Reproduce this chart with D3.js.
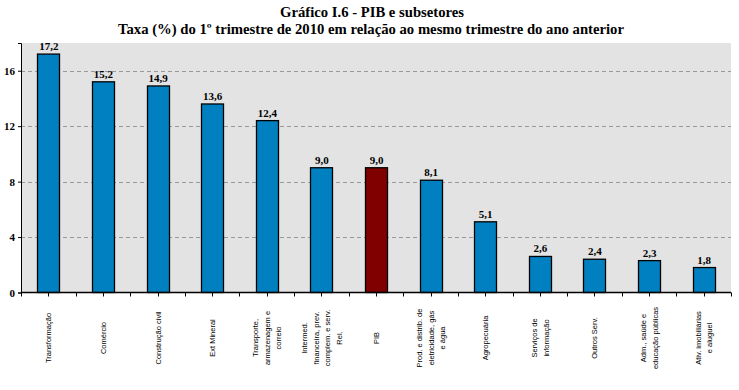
<!DOCTYPE html>
<html>
<head>
<meta charset="utf-8">
<script src="https://cdn.jsdelivr.net/npm/d3@7"></script>
<style>
  html, body { margin: 0; padding: 0; background: #ffffff; }
  svg { display: block; }
</style>
</head>
<body>
<script>
const titleLines = ["Gráfico I.6 - PIB e subsetores", "Taxa (%) do 1º trimestre de 2010 em relação ao mesmo trimestre do ano anterior"];
const categories = [
  ["Transformação"],
  ["Comércio"],
  ["Construção civil"],
  ["Ext Mineral"],
  ["Transporte,", "armazenagem e", "correio"],
  ["Intermed.", "financeira, prev.", "complem. e serv.", "Rel."],
  ["PIB"],
  ["Prod. e distrib. de", "eletricidade, gás", "e água"],
  ["Agropecuária"],
  ["Serviços de", "informação"],
  ["Outros Serv."],
  ["Adm., saúde e", "educação públicas"],
  ["Ativ. imobiliárias", "e aluguel"]
];
const values = [17.2, 15.2, 14.9, 13.6, 12.4, 9.0, 9.0, 8.1, 5.1, 2.6, 2.4, 2.3, 1.8];
const highlight = [false, false, false, false, false, false, true, false, false, false, false, false, false];
const yTicks = [0, 4, 8, 12, 16];

const W = 739, H = 390;
const m = { left: 21, right: 8, top: 43, bottom: 98 };
const svg = d3.select("body").append("svg").attr("width", W).attr("height", H);

const x = d3.scaleBand().domain(d3.range(values.length)).range([m.left, W - m.right]).paddingInner(0.6).paddingOuter(0.3);
const xo = d3.scaleBand().domain(d3.range(values.length)).range([m.left, W - m.right]);
const y = d3.scaleLinear().domain([0, 18]).range([H - m.bottom + 0.5, m.top]);

// plot background
svg.append("rect").attr("x", m.left).attr("y", m.top).attr("width", W - m.right - m.left).attr("height", y(0) - m.top).attr("fill", "#e3e3e3");

// titles
const titleSizes = [[17, 184], [34, 506]];
titleLines.forEach((t, i) => {
  svg.append("text").attr("x", i === 0 ? 280 : 118).attr("y", titleSizes[i][0])
    .attr("textLength", titleSizes[i][1]).attr("lengthAdjust", "spacingAndGlyphs")
    .attr("font-family", "'Liberation Serif', 'Times New Roman', serif").attr("font-weight", "bold")
    .attr("font-size", 15).attr("fill", "#000").text(t);
});

// gridlines
svg.append("g").selectAll("line").data(yTicks.filter(d => d > 0)).join("line")
  .attr("x1", m.left).attr("x2", W - m.right)
  .attr("y1", d => Math.round(y(d)) + 0.5).attr("y2", d => Math.round(y(d)) + 0.5)
  .attr("stroke", "#999").attr("stroke-dasharray", "4,3");

// y axis
const yAxis = svg.append("g").attr("transform", `translate(${m.left},0)`)
  .call(d3.axisLeft(y).tickValues(yTicks).tickSize(3).tickPadding(3));
yAxis.select(".domain").attr("stroke", "#000");
yAxis.selectAll(".tick line").attr("stroke", "#000");
yAxis.selectAll("text").attr("font-family", "'Liberation Serif', 'Times New Roman', serif")
  .attr("font-weight", "bold").attr("font-size", 11).attr("fill", "#000");

// bars
svg.append("g").selectAll("rect").data(values).join("rect")
  .attr("x", (d, i) => Math.round(xo(i) + xo.bandwidth() / 2 - 11) + 0.5)
  .attr("width", 22)
  .attr("y", d => y(d))
  .attr("height", d => y(0) - y(d))
  .attr("fill", (d, i) => highlight[i] ? "#800000" : "#0080c0")
  .attr("stroke", "#000").attr("stroke-width", 1.3);

// value labels
svg.append("g").selectAll("text").data(values).join("text")
  .attr("x", (d, i) => xo(i) + xo.bandwidth() / 2 + 0.5)
  .attr("y", d => y(d) - 4)
  .attr("text-anchor", "middle")
  .attr("font-family", "'Liberation Serif', 'Times New Roman', serif").attr("font-weight", "bold")
  .attr("font-size", 11).attr("fill", "#000")
  .text(d => d.toFixed(1).replace(".", ","));

// x axis
const xAxisG = svg.append("g").attr("transform", `translate(0,${y(0)})`);
xAxisG.append("line").attr("x1", m.left).attr("x2", W - m.right).attr("stroke", "#000").attr("stroke-width", 1.3);
const tickPos = [];
for (let i = 0; i <= values.length; i++) tickPos.push(xo.range()[0] + i * xo.step());
for (let i = 0; i < values.length; i++) tickPos.push(xo(i) + xo.bandwidth() / 2);
xAxisG.selectAll("line.t").data(tickPos).join("line").attr("class", "t")
  .attr("x1", d => Math.round(d) + 0.5).attr("x2", d => Math.round(d) + 0.5)
  .attr("y1", 0).attr("y2", 4).attr("stroke", "#000");

// category labels (rotated)
const lineGap = 11.5;
categories.forEach((lines, i) => {
  const cx = xo(i) + xo.bandwidth() / 2;
  const n = lines.length;
  lines.forEach((ln, j) => {
    const lx = cx + (j - (n - 1) / 2) * lineGap + 3;
    svg.append("text")
      .attr("transform", `translate(${lx},338) rotate(-90)`)
      .attr("text-anchor", "middle")
      .attr("font-family", "'Liberation Sans', Arial, sans-serif")
      .attr("font-size", 7.5).attr("fill", "#000")
      .text(ln);
  });
});
</script>
</body>
</html>
